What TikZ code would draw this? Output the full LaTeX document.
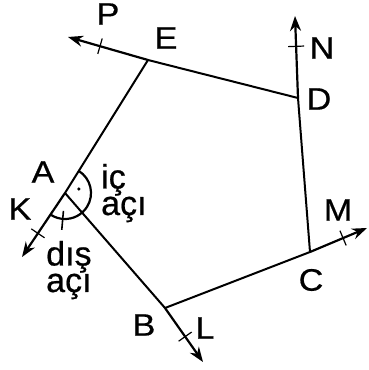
\documentclass[tikz,border=0pt]{standalone}
\usepackage{fontspec}
\setmainfont{Liberation Sans}[FakeBold=0.6]
\newfontfamily\capfont[FakeStretch=1.1,FakeBold=0.6]{Liberation Sans}
\usetikzlibrary{arrows.meta,calc}
\tikzset{
  pg side/.style={line width=2pt, line cap=round, line join=round},
  pg ray/.style={line width=2.2pt, -{Stealth[length=15pt,width=11pt]}},
  pg tick/.style={line width=1.2pt},
  pg arc/.style={line width=2.2pt},
  pg vertex/.style={font=\capfont\fontsize{31}{31}\selectfont, inner sep=0pt},
  pg word/.style={font=\fontsize{34}{26.5}\selectfont, inner sep=0pt, align=left, anchor=base west},
}

\begin{document}
\begin{tikzpicture}[x=1pt,y=1pt]
  \useasboundingbox (0,0) rectangle (368,370);

  % corners of the pentagon
  \coordinate (A) at (65,177);
  \coordinate (B) at (165,62);
  \coordinate (C) at (310,118);
  \coordinate (D) at (298,272);
  \coordinate (E) at (148,310);

  % ends of the extended sides
  \coordinate (K) at (22,113);
  \coordinate (L) at (203,8);
  \coordinate (M) at (367,142);
  \coordinate (N) at (295,354);
  \coordinate (P) at (68,333);

  \draw[pg side] (A) -- (B) -- (C) -- (D) -- (E) -- cycle;

  \draw[pg ray] (A) -- (K);
  \draw[pg ray] (B) -- (L);
  \draw[pg ray] (C) -- (M);
  \draw[pg ray] (D) -- (N);
  \draw[pg ray] (E) -- (P);

  % ticks on the rays
  \foreach \s/\t/\f in {E/P/0.6, A/K/0.63, D/N/0.63, C/M/0.58, B/L/0.53} {
    \coordinate (t\t) at ($(\s)!\f!(\t)$);
    \draw[pg tick] ($(t\t)!8pt!90:(\t)$) -- ($(t\t)!8pt!-90:(\t)$);
  }

  % angles at A
  \draw[pg arc] ($(A)+(58:26)$) arc[start angle=58, end angle=-123, radius=26];
  \coordinate (dot) at ($(A)+(16:14.5)$);
  \fill (dot) circle (1.8pt);
  \coordinate (dt1) at ($(A)+(-95:18)$);
  \coordinate (dt2) at ($(A)+(-95:37)$);
  \draw[pg tick, line width=1.6pt] (dt1) -- (dt2);

  % letters
  \node[pg vertex] (lA) at (43,198) {A};
  \node[pg vertex] (lB) at (144,45) {B};
  \node[pg vertex] (lC) at (311,90) {C};
  \node[pg vertex] (lD) at (319,271) {D};
  \node[pg vertex] (lE) at (166,332) {E};
  \node[pg vertex] (lK) at (20,161) {K};
  \node[pg vertex] (lL) at (205,42) {L};
  \node[pg vertex] (lM) at (338,160) {M};
  \node[pg vertex] (lN) at (322,322) {N};
  \node[pg vertex] (lP) at (108,356) {P};

  \node[pg word] (ic) at (101,155) {iç\\açı};
  \node[pg word] (dis) at (46,78) {dış\\açı};
\end{tikzpicture}
\end{document}
